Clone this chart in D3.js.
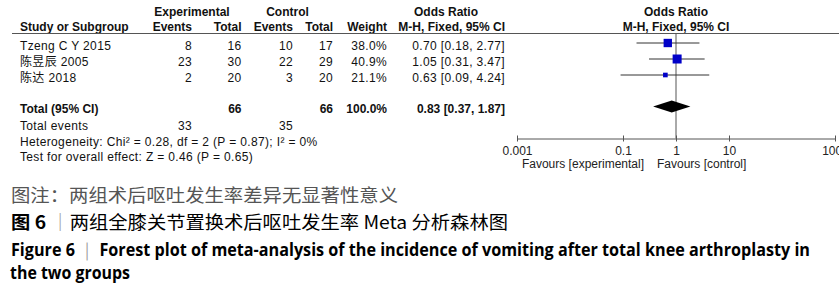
<!DOCTYPE html>
<html>
<head>
<meta charset="utf-8">
<script src="https://cdn.jsdelivr.net/npm/d3@7"></script>
<style>
  body { margin: 0; background: #fff; }
  svg { display: block; }
  .tbl { font-family: "Liberation Sans", Arial, "Noto Sans CJK SC", sans-serif; font-size: 12px; fill: #111; letter-spacing: 0.35px; }
  .tbl .bold { font-weight: bold; letter-spacing: 0px; }
</style>
</head>
<body>
<div id="chart"></div>
<script>
// study rows
const studies = ["Tzeng C Y 2015", "陈昱辰 2005", "陈达 2018"];
const expEvents = [8, 23, 2];
const expTotal = [16, 30, 20];
const ctlEvents = [10, 22, 3];
const ctlTotal = [17, 29, 20];
const weights = [38.0, 40.9, 21.1];
const oddsRatio = [0.70, 1.05, 0.63];
const ciLow = [0.18, 0.31, 0.09];
const ciHigh = [2.77, 3.47, 4.24];

// pooled
const totalN = [66, 66];
const totalEvents = [33, 35];
const pooled = { or: 0.83, lo: 0.37, hi: 1.87 };
const heterogeneity = "Heterogeneity: Chi² = 0.28, df = 2 (P = 0.87); I² = 0%";
const overallTest = "Test for overall effect: Z = 0.46 (P = 0.65)";

const tickValues = [0.001, 0.1, 1, 10, 1000];
const tickLabels = ["0.001", "0.1", "1", "10", "1000"];

const captionNote = "图注：两组术后呕吐发生率差异无显著性意义";
const captionCn = ["图 6 ", "｜", "两组全膝关节置换术后呕吐发生率 Meta 分析森林图"];
const captionEn1 = ["Figure 6 ", "｜", " Forest plot of meta-analysis of the incidence of vomiting after total knee arthroplasty in"];
const captionEn2 = "the two groups";

const width = 839, height = 290;

const svg = d3.select("#chart").append("svg")
  .attr("width", width)
  .attr("height", height);

svg.append("rect").attr("width", width).attr("height", height).attr("fill", "#fff");

const x = d3.scaleLog().domain([0.001, 1000]).range([517, 835]);
const side = d3.scaleLinear().domain([0, 100]).range([0, 22]);

const rowY = d3.scaleLinear().domain([0, 1]).range([49.5, 65.5]); // baseline of study rows

// column right edges
const col = { expE: 192, expT: 241.5, ctlE: 293, ctlT: 333, wt: 387, or: 505 };

const t = svg.append("g").attr("class", "tbl");

function txt(str, xx, yy, anchor, bold) {
  return t.append("text")
    .attr("x", xx).attr("y", yy)
    .attr("text-anchor", anchor || "start")
    .classed("bold", !!bold)
    .text(str);
}

// header
txt("Experimental", 192, 16, "middle", true);
txt("Control", 287.5, 16, "middle", true);
txt("Odds Ratio", 446, 16, "middle", true);
txt("Odds Ratio", x(1), 16, "middle", true);
txt("Study or Subgroup", 20, 31, "start", true);
txt("Events", col.expE, 31, "end", true);
txt("Total", col.expT, 31, "end", true);
txt("Events", col.ctlE, 31, "end", true);
txt("Total", col.ctlT, 31, "end", true);
txt("Weight", col.wt, 31, "end", true);
txt("M-H, Fixed, 95% CI", col.or, 31, "end", true);
txt("M-H, Fixed, 95% CI", x(1), 31, "middle", true);

svg.append("line")
  .attr("x1", 12).attr("x2", width)
  .attr("y1", 33.5).attr("y2", 33.5)
  .attr("stroke", "#555").attr("stroke-width", 1);

// rows
studies.forEach((s, i) => {
  const y = rowY(i);
  txt(s, 20, y);
  txt(expEvents[i], col.expE, y, "end");
  txt(expTotal[i], col.expT, y, "end");
  txt(ctlEvents[i], col.ctlE, y, "end");
  txt(ctlTotal[i], col.ctlT, y, "end");
  txt(weights[i].toFixed(1) + "%", col.wt, y, "end");
  txt(`${oddsRatio[i].toFixed(2)} [${ciLow[i].toFixed(2)}, ${ciHigh[i].toFixed(2)}]`, col.or, y, "end");
});

const yTotal = 112.5;
txt("Total (95% CI)", 20, yTotal, "start", true);
txt(totalN[0], col.expT, yTotal, "end", true);
txt(totalN[1], col.ctlT, yTotal, "end", true);
txt("100.0%", col.wt, yTotal, "end", true);
txt(`${pooled.or.toFixed(2)} [${pooled.lo.toFixed(2)}, ${pooled.hi.toFixed(2)}]`, col.or, yTotal, "end", true);

txt("Total events", 20, 129.5);
txt(totalEvents[0], col.expE, 129.5, "end");
txt(totalEvents[1], col.ctlE, 129.5, "end");
txt(heterogeneity, 20, 145.5);
txt(overallTest, 20, 160.5);

// forest plot
const axisY = 138.5;
const plot = svg.append("g");

plot.append("line")
  .attr("x1", x(1)).attr("x2", x(1))
  .attr("y1", 33.5).attr("y2", axisY)
  .attr("stroke", "#555").attr("stroke-width", 1);

studies.forEach((s, i) => {
  const cy = rowY(i) - 6.5;
  plot.append("line")
    .attr("x1", x(ciLow[i])).attr("x2", x(ciHigh[i]))
    .attr("y1", cy).attr("y2", cy)
    .attr("stroke", "#333").attr("stroke-width", 1);
  const sz = side(weights[i]);
  plot.append("rect")
    .attr("x", x(oddsRatio[i]) - sz / 2)
    .attr("y", cy - sz / 2)
    .attr("width", sz).attr("height", sz)
    .attr("fill", "#0000c8");
});

const dy = yTotal - 6;
plot.append("path")
  .attr("d", `M${x(pooled.lo)},${dy} L${x(pooled.or)},${dy - 6} L${x(pooled.hi)},${dy} L${x(pooled.or)},${dy + 6} Z`)
  .attr("fill", "#000");

const axis = d3.axisBottom(x)
  .tickValues(tickValues)
  .tickFormat((d, i) => tickLabels[i])
  .tickSizeOuter(0)
  .tickSizeInner(3)
  .tickPadding(5);

const ax = plot.append("g")
  .attr("transform", `translate(0,${axisY})`)
  .call(axis);

ax.select(".domain").attr("stroke", "#555");
ax.selectAll(".tick line").attr("y1", -3).attr("y2", 3).attr("stroke", "#555");
ax.selectAll(".tick text")
  .attr("font-family", "\"Liberation Sans\", Arial, sans-serif")
  .attr("font-size", 12)
  .attr("fill", "#222");

txt("Favours [experimental]", 644, 168, "end").attr("fill", "#222").style("letter-spacing", "0px");
txt("Favours [control]", 657, 168, "start").attr("fill", "#222").style("letter-spacing", "0px");

// captions
const cap = svg.append("g");

cap.append("text")
  .attr("x", 11).attr("y", 202)
  .attr("font-family", "\"Noto Sans CJK SC\", sans-serif")
  .attr("font-size", 18)
  .attr("fill", "#555")
  .attr("textLength", 387).attr("lengthAdjust", "spacingAndGlyphs")
  .text(captionNote);

function sepLine(parts, yy, len, fam, size, restWeight) {
  const el = cap.append("text")
    .attr("x", 11).attr("y", yy)
    .attr("font-family", fam)
    .attr("font-size", size)
    .attr("fill", "#000")
    .attr("textLength", len).attr("lengthAdjust", "spacingAndGlyphs");
  parts.forEach((p, i) => {
    el.append("tspan")
      .attr("fill", i === 1 ? "#999" : "#000")
      .attr("font-weight", i === 0 ? "bold" : (i === 1 ? "normal" : restWeight))
      .text(p);
  });
  return el;
}

sepLine(captionCn, 229, 497, "\"Noto Sans CJK SC\", sans-serif", 18, "normal");
sepLine(captionEn1, 256, 799, "\"Liberation Sans Narrow\", \"Open Sans\", sans-serif", 18, "bold");

cap.append("text")
  .attr("x", 10).attr("y", 279)
  .attr("font-family", "\"Liberation Sans Narrow\", \"Open Sans\", sans-serif")
  .attr("font-size", 18)
  .attr("font-weight", "bold")
  .attr("fill", "#000")
  .attr("textLength", 120).attr("lengthAdjust", "spacingAndGlyphs")
  .text(captionEn2);
</script>
</body>
</html>
